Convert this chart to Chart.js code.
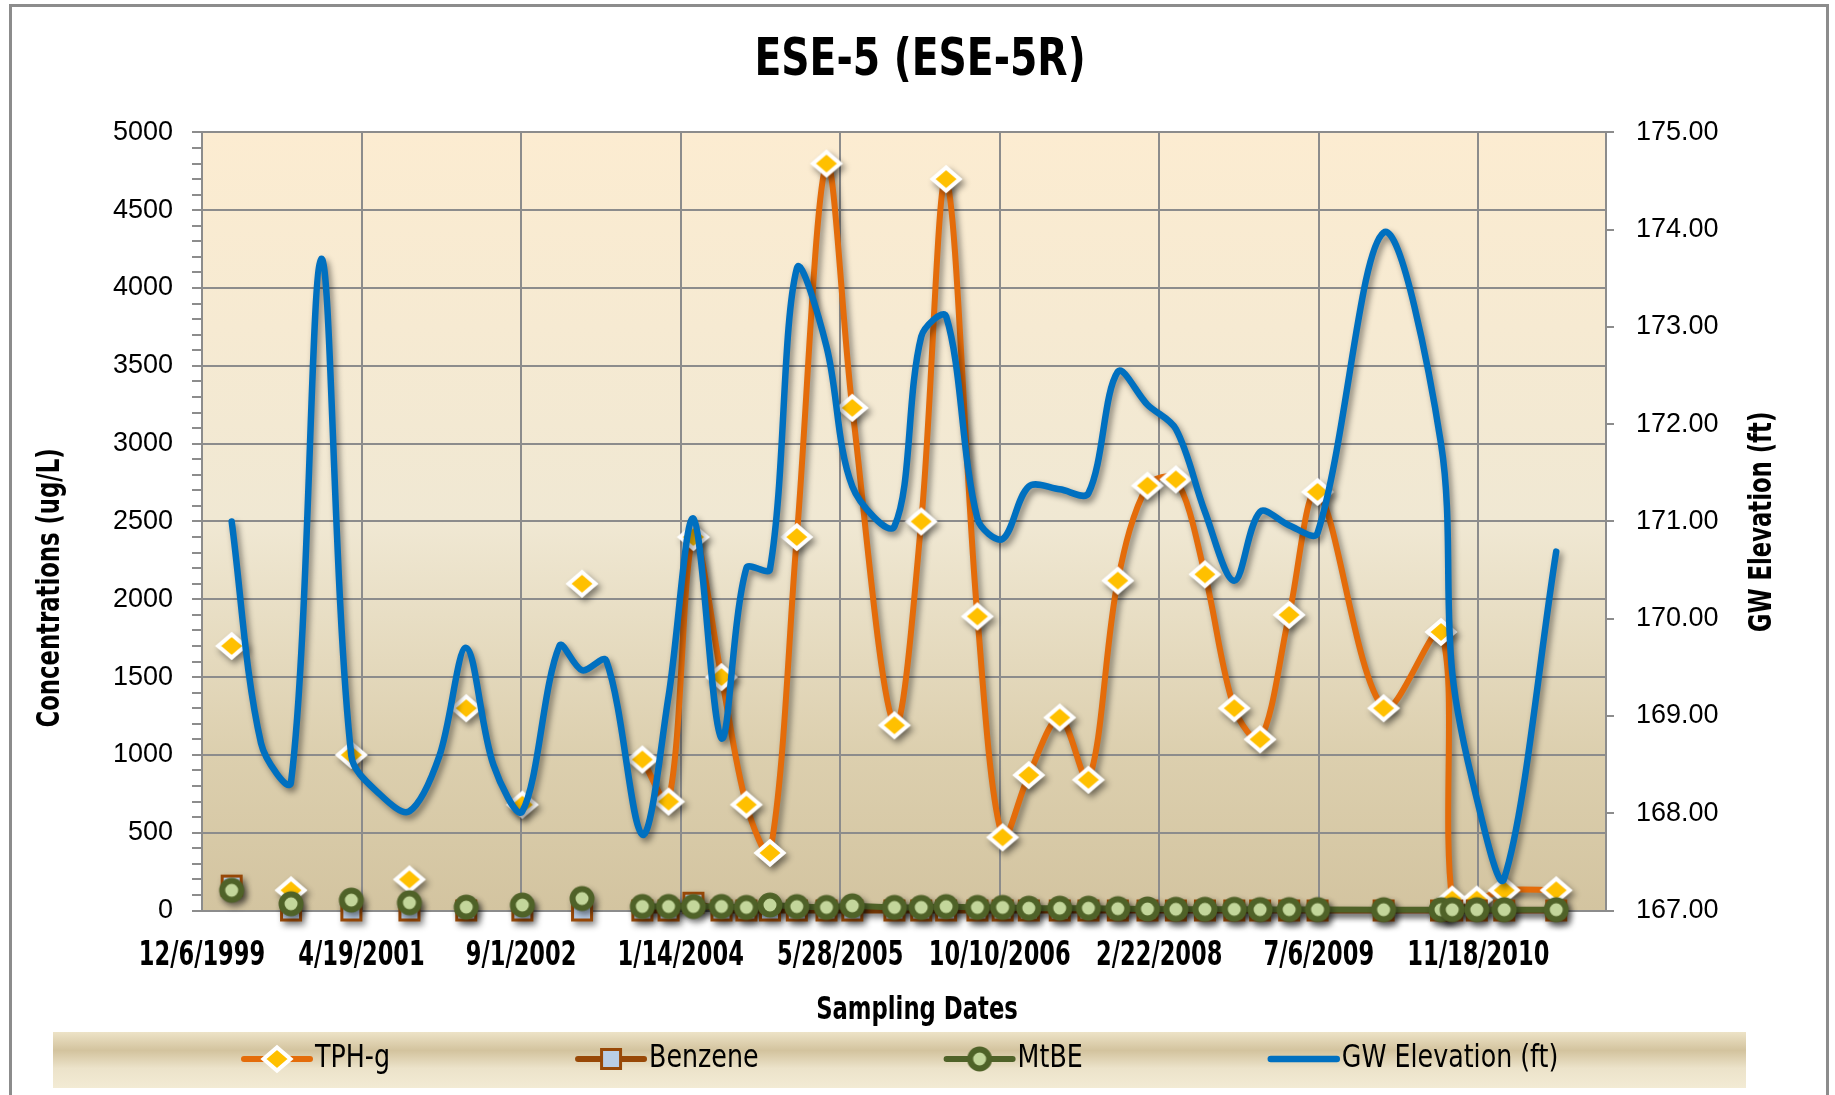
<!DOCTYPE html>
<html>
<head>
<meta charset="utf-8">
<title>ESE-5 (ESE-5R)</title>
<script src="https://cdn.jsdelivr.net/npm/chart.js@4.4.1/dist/chart.umd.min.js"></script>
<style>
  html, body { margin: 0; padding: 0; background: #fff; overflow: hidden; }
  #wrap { position: relative; width: 1835px; height: 1095px; }
  #frame { position: absolute; left: 9px; top: 4px; width: 1820px; height: 1200px;
           border: 3px solid #8c8c8c; box-sizing: border-box; pointer-events: none; }
  canvas { position: absolute; left: 0; top: 0; }
</style>
</head>
<body>
<div id="wrap">
  <canvas id="eseChart" width="1835" height="1095"></canvas>
  <div id="frame"></div>
</div>
<script>
// sampling events, one row per date (null = not sampled that day)
const sampleDates = [
  '3/8/2000', '6/8/2000', '9/10/2000', '12/14/2000', '3/18/2001', '6/17/2001',
  '9/16/2001', '12/19/2001', '3/13/2002', '6/6/2002', '9/5/2002', '12/30/2002',
  '3/11/2003', '5/26/2003', '9/16/2003', '12/7/2003', '2/23/2004', '5/21/2004',
  '8/7/2004', '10/20/2004', '1/12/2005', '4/15/2005', '7/5/2005', '11/14/2005',
  '2/6/2006', '4/25/2006', '8/1/2006', '10/19/2006', '1/9/2007', '4/16/2007',
  '7/15/2007', '10/15/2007', '1/16/2008', '4/14/2008', '7/14/2008', '10/14/2008',
  '1/3/2009', '4/4/2009', '7/2/2009', '1/25/2010', '7/24/2010', '8/28/2010',
  '11/13/2010', '2/7/2011', '7/20/2011'
];
const tphG = [
  1700, null, 130, null, 1000, null,
  200, null, 1300, null, 680, null,
  2100, null, 970, 700, 2400, 1500,
  680, 370, 2400, 4800, 3230, 1190,
  2500, 4700, 1890, 470, 870, 1240,
  840, 2120, 2730, 2770, 2160, 1300,
  1100, 1900, 2690, 1300, 1790, 70,
  70, 130, 130
];
const benzene = [
  160, null, 0, null, 0, null,
  0, null, 0, null, 0, null,
  0, null, 0, 0, 50, 0,
  0, 0, 0, 0, 0, 0,
  0, 0, 0, 0, 0, 0,
  0, 0, 0, 0, 0, 0,
  0, 0, 0, 0, 0, 0,
  0, 0, 0
];
const mtbe = [
  130, null, 43, null, 67, null,
  50, null, 22, null, 35, null,
  77, null, 26, 26, 26, 26,
  20, 35, 25, 20, 30, 20,
  20, 25, 20, 20, 15, 15,
  15, 12, 10, 8, 8, 8,
  6, 6, 6, 5, 5, 5,
  5, 5, 5
];
const gwElevation = [
  171.00, 168.72, 168.32, 173.70, 168.59, 168.19,
  168.02, 168.59, 169.70, 168.50, 168.02, 169.72,
  169.47, 169.57, 167.78, 169.20, 171.03, 168.77,
  170.52, 170.51, 173.60, 172.80, 171.36, 170.95,
  172.90, 173.11, 171.03, 170.82, 171.36, 171.33,
  171.29, 172.54, 172.20, 171.95, 171.10, 170.39,
  171.10, 170.96, 170.88, 173.97, 171.80, 169.45,
  168.15, 167.33, 170.69
];
const dateTicks = [
  '12/6/1999', '4/19/2001', '9/1/2002', '1/14/2004', '5/28/2005',
  '10/10/2006', '2/22/2008', '7/6/2009', '11/18/2010'
];

const NARROW = '"DejaVu Sans Condensed", sans-serif';
const PLAIN = '"Liberation Sans", Arial, sans-serif';
const GRID = '#8c8c8c';

// spreadsheet-style day numbers so the date axis can stay linear
const EPOCH = Date.UTC(1899, 11, 30);
function toSerial(s) {
  const [m, d, y] = s.split('/').map(Number);
  return Math.round((Date.UTC(y, m - 1, d) - EPOCH) / 86400000);
}
function fromSerial(n) {
  const dt = new Date(EPOCH + n * 86400000);
  return (dt.getUTCMonth() + 1) + '/' + dt.getUTCDate() + '/' + dt.getUTCFullYear();
}
const pts = arr => sampleDates.map((d, i) => ({ x: toSerial(d), y: arr[i] }));

// markers are pre-rendered so each one casts a single shadow
function marker(size, paint) {
  const c = document.createElement('canvas');
  c.width = size;
  c.height = size;
  const g = c.getContext('2d');
  g.translate(size / 2, size / 2);
  paint(g);
  return c;
}
const diamondMark = marker(36, g => {
  g.beginPath();
  g.moveTo(-13.5, 0); g.lineTo(0, -11.5); g.lineTo(13.5, 0); g.lineTo(0, 11.5);
  g.closePath();
  g.fillStyle = '#ffc000';
  g.fill();
  g.lineWidth = 4;
  g.strokeStyle = '#ffffff';
  g.stroke();
});
const squareMark = marker(28, g => {
  g.fillStyle = '#b9cde5';
  g.fillRect(-9.5, -9.5, 19, 19);
  g.lineWidth = 3;
  g.strokeStyle = '#984807';
  g.strokeRect(-9.5, -9.5, 19, 19);
});
const circleMark = marker(30, g => {
  g.beginPath();
  g.arc(0, 0, 9.5, 0, Math.PI * 2);
  g.fillStyle = '#c3d69b';
  g.fill();
  g.lineWidth = 6;
  g.strokeStyle = '#4f6228';
  g.stroke();
});

// text squeezed horizontally to get the narrow headline look
function narrowText(ctx, text, x, y, sx, opts = {}) {
  ctx.save();
  ctx.translate(x, y);
  if (opts.rotate) ctx.rotate(opts.rotate);
  ctx.scale(sx, 1);
  ctx.textAlign = opts.align || 'center';
  ctx.fillText(text, 0, 0);
  ctx.restore();
}

const plotBackground = {
  id: 'plotBackground',
  beforeDraw(chart) {
    const { ctx, chartArea: a } = chart;
    const g = ctx.createLinearGradient(0, a.top, 0, a.bottom);
    g.addColorStop(0, '#fcecd1');
    g.addColorStop(0.5, '#f0e8d3');
    g.addColorStop(0.8, '#dccfae');
    g.addColorStop(1, '#d3c4a0');
    ctx.save();
    ctx.fillStyle = g;
    ctx.fillRect(a.left, a.top, a.right - a.left, a.bottom - a.top);
    ctx.restore();
  }
};

const seriesShadow = {
  id: 'seriesShadow',
  beforeDatasetDraw(chart) {
    const ctx = chart.ctx;
    ctx.save();
    ctx.shadowColor = 'rgba(0,0,0,0.45)';
    ctx.shadowBlur = 6;
    ctx.shadowOffsetX = 3;
    ctx.shadowOffsetY = 4;
  },
  afterDatasetDraw(chart) {
    chart.ctx.restore();
  }
};

// title, date labels, axis titles and the legend strip
const decorations = {
  id: 'decorations',
  afterDraw(chart) {
    const ctx = chart.ctx;
    const xScale = chart.scales.x;
    ctx.save();
    ctx.fillStyle = '#000';
    ctx.textBaseline = 'middle';

    ctx.font = 'bold 52px ' + NARROW;
    narrowText(ctx, 'ESE-5 (ESE-5R)', 920, 61, 0.84);

    ctx.font = 'bold 33px ' + NARROW;
    xScale.ticks.forEach(t => {
      narrowText(ctx, fromSerial(t.value), xScale.getPixelForValue(t.value), 956, 0.76);
    });

    ctx.font = 'bold 32px ' + NARROW;
    narrowText(ctx, 'Concentrations (ug/L)', 51, 588, 0.79, { rotate: -Math.PI / 2 });
    narrowText(ctx, 'GW Elevation (ft)', 1763, 522, 0.79, { rotate: -Math.PI / 2 });
    narrowText(ctx, 'Sampling Dates', 917, 1011, 0.79);

    const band = ctx.createLinearGradient(0, 1032, 0, 1088);
    band.addColorStop(0, '#ede3c7');
    band.addColorStop(0.33, '#d3c39e');
    band.addColorStop(0.65, '#ece3ca');
    band.addColorStop(1, '#f3ebd4');
    ctx.fillStyle = band;
    ctx.fillRect(53, 1032, 1693, 56);

    ctx.font = '32px ' + NARROW;
    const sx = 0.88;
    const cy = 1059;
    let x = 244;
    chart.data.datasets.forEach(ds => {
      ctx.strokeStyle = ds.borderColor;
      ctx.lineWidth = ds.borderWidth;
      ctx.lineCap = 'round';
      ctx.beginPath();
      ctx.moveTo(x, cy);
      ctx.lineTo(x + 66, cy);
      ctx.stroke();
      const m = ds.pointStyle;
      if (m && m.width) ctx.drawImage(m, x + 33 - m.width / 2, cy - m.height / 2);
      ctx.fillStyle = '#000';
      narrowText(ctx, ds.label, x + 71, cy, sx, { align: 'left' });
      x += 71 + ctx.measureText(ds.label).width * sx + 188;
    });
    ctx.restore();
  }
};

new Chart(document.getElementById('eseChart'), {
  type: 'line',
  data: {
    datasets: [
      {
        label: 'TPH-g', data: pts(tphG), yAxisID: 'y', order: 4,
        borderColor: '#e46c0a', borderWidth: 6, tension: 0.33,
        borderJoinStyle: 'round', borderCapStyle: 'round',
        pointStyle: diamondMark, pointRadius: 12, clip: false
      },
      {
        label: 'Benzene', data: pts(benzene), yAxisID: 'y', order: 3,
        borderColor: '#984807', borderWidth: 6, tension: 0,
        pointStyle: squareMark, pointRadius: 11, clip: false
      },
      {
        label: 'MtBE', data: pts(mtbe), yAxisID: 'y', order: 2,
        borderColor: '#4f6228', borderWidth: 6, tension: 0,
        pointStyle: circleMark, pointRadius: 12, clip: false
      },
      {
        label: 'GW Elevation (ft)', data: pts(gwElevation), yAxisID: 'y2', order: 1,
        borderColor: '#0070c0', borderWidth: 6.5, tension: 0.33,
        borderJoinStyle: 'round', borderCapStyle: 'round',
        pointRadius: 0, clip: false
      }
    ]
  },
  options: {
    responsive: false,
    animation: false,
    events: [],
    layout: { padding: { top: 132.4, left: 0, right: 0, bottom: 0 } },
    plugins: {
      legend: { display: false },
      tooltip: { enabled: false },
      title: { display: false }
    },
    scales: {
      x: {
        type: 'linear', min: toSerial(dateTicks[0]), max: 40900,
        afterBuildTicks: s => { s.ticks = dateTicks.map(d => ({ value: toSerial(d) })); },
        afterFit: s => { s.height = 184.5; },
        ticks: { display: false },
        grid: { color: GRID, lineWidth: 2, drawTicks: false },
        border: { color: GRID, width: 2 }
      },
      y: {
        position: 'left', min: 0, max: 5000,
        afterFit: s => { s.width = 202; },
        ticks: {
          stepSize: 100, autoSkip: false, color: '#000', padding: 19,
          callback: v => (v % 500 === 0 ? v : ''),
          font: { family: PLAIN, size: 27 }
        },
        grid: {
          color: c => (c.tick && c.tick.value % 500 === 0 ? GRID : 'rgba(0,0,0,0)'),
          tickColor: GRID, tickLength: 10, lineWidth: 2
        },
        border: { color: GRID, width: 2 }
      },
      y2: {
        position: 'right', min: 167, max: 175,
        afterFit: s => { s.width = 229; },
        ticks: {
          stepSize: 1, color: '#000', padding: 22,
          callback: v => v.toFixed(2),
          font: { family: PLAIN, size: 27 }
        },
        grid: { drawOnChartArea: false, color: GRID, tickLength: 8, lineWidth: 2 },
        border: { color: GRID, width: 2 }
      }
    }
  },
  plugins: [plotBackground, seriesShadow, decorations]
});
</script>
</body>
</html>
